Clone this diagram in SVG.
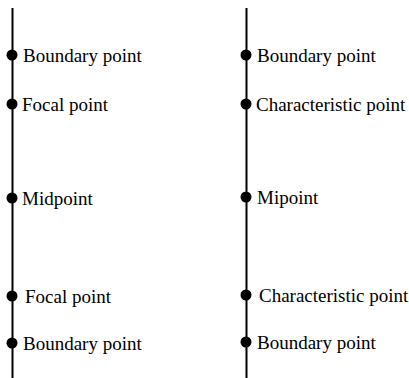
<svg xmlns="http://www.w3.org/2000/svg" width="409" height="378" viewBox="0 0 409 378">
<style>
.ln{stroke:#000;stroke-width:2;fill:none}
.dot{fill:#000}
.t{font-family:'Liberation Serif','Times New Roman',serif;font-size:19px;fill:#000}
</style>
<rect width="409" height="378" fill="#fff"/>
<g id="connectors">
<line class="ln" x1="12.5" y1="8" x2="12.5" y2="378"/>
<line class="ln" x1="246.5" y1="8" x2="246.5" y2="378"/>
</g>
<g id="l1"><circle class="dot" cx="12" cy="55" r="5.5"/><text class="t" font-family="Liberation Serif, serif" x="23" y="62">Boundary point</text></g>
<g id="l2"><circle class="dot" cx="12" cy="104" r="5.5"/><text class="t" font-family="Liberation Serif, serif" x="22" y="111">Focal point</text></g>
<g id="l3"><circle class="dot" cx="12" cy="198" r="5.5"/><text class="t" font-family="Liberation Serif, serif" x="22" y="205">Midpoint</text></g>
<g id="l4"><circle class="dot" cx="12" cy="296" r="5.5"/><text class="t" font-family="Liberation Serif, serif" x="25" y="303">Focal point</text></g>
<g id="l5"><circle class="dot" cx="12" cy="343" r="5.5"/><text class="t" font-family="Liberation Serif, serif" x="23" y="350">Boundary point</text></g>
<g id="r1"><circle class="dot" cx="246" cy="55" r="5.5"/><text class="t" font-family="Liberation Serif, serif" x="257" y="62">Boundary point</text></g>
<g id="r2"><circle class="dot" cx="246" cy="104" r="5.5"/><text class="t" font-family="Liberation Serif, serif" x="256" y="111">Characteristic point</text></g>
<g id="r3"><circle class="dot" cx="246" cy="197" r="5.5"/><text class="t" font-family="Liberation Serif, serif" x="257" y="204">Mipoint</text></g>
<g id="r4"><circle class="dot" cx="246" cy="295" r="5.5"/><text class="t" font-family="Liberation Serif, serif" x="259" y="302">Characteristic point</text></g>
<g id="r5"><circle class="dot" cx="246" cy="342" r="5.5"/><text class="t" font-family="Liberation Serif, serif" x="257" y="349">Boundary point</text></g>
</svg>
